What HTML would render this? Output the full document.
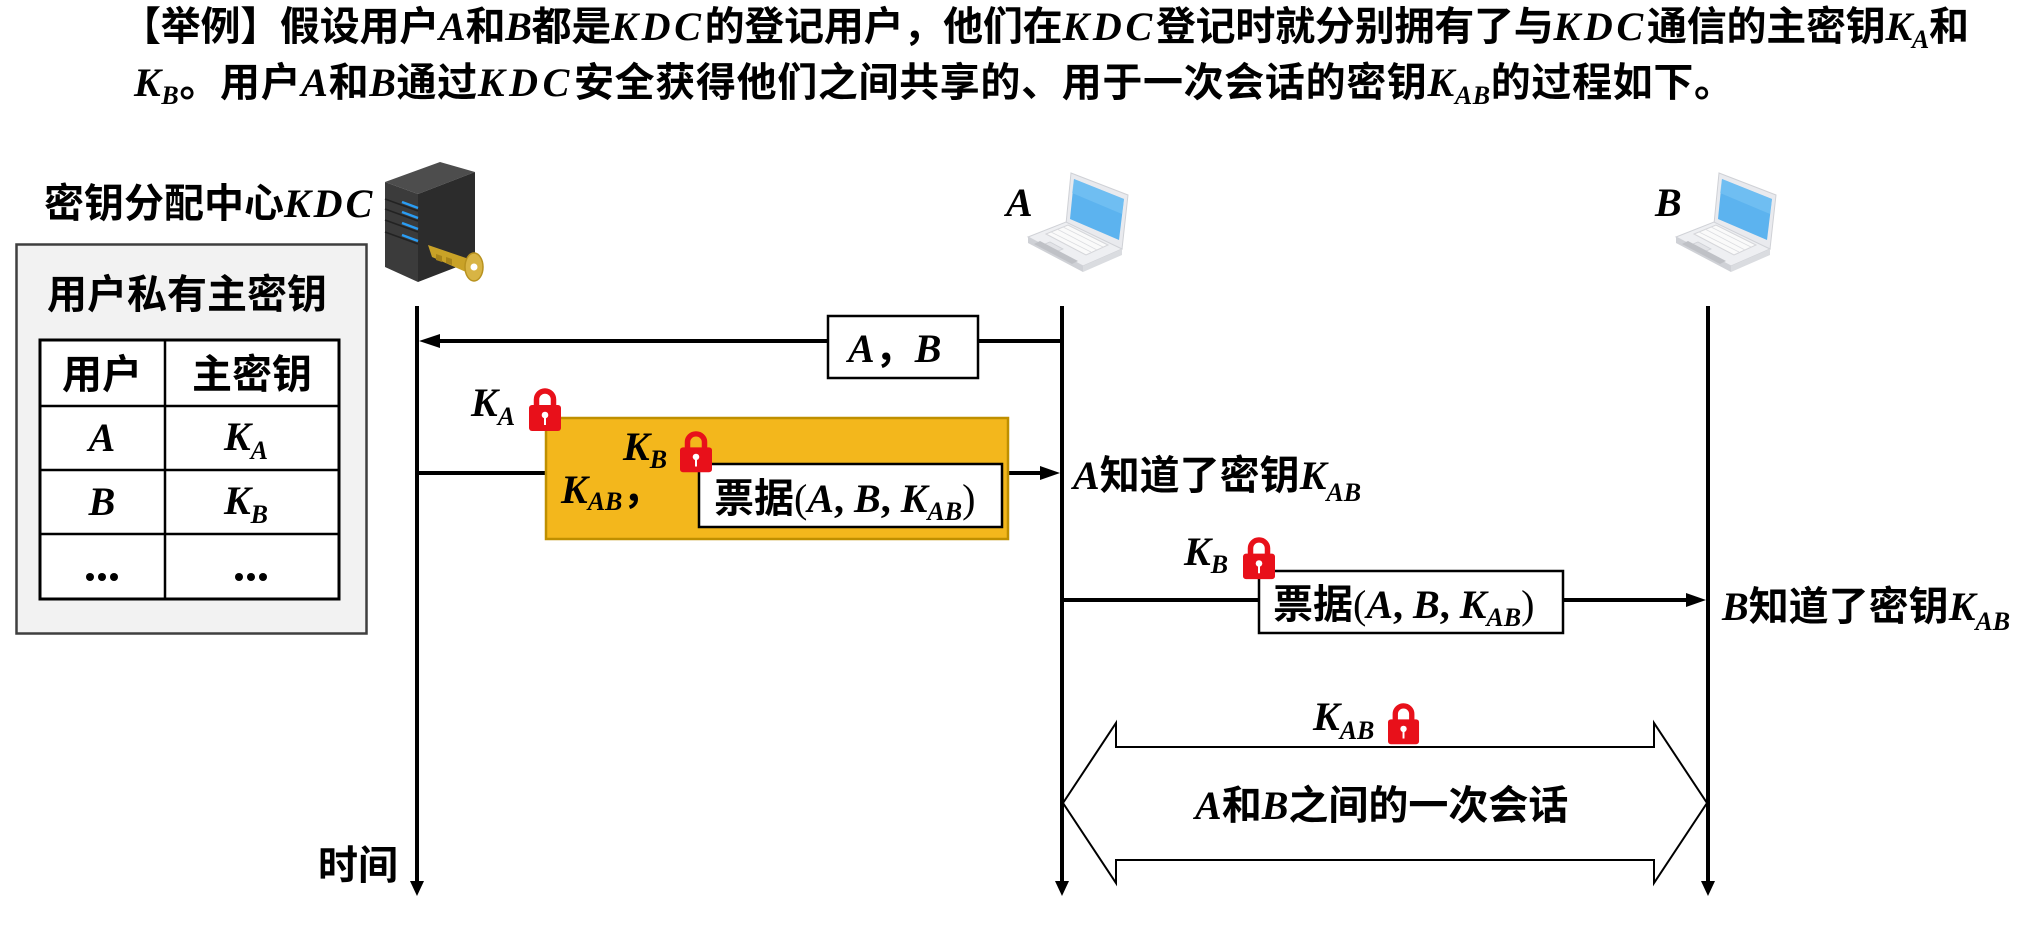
<!DOCTYPE html>
<html>
<head>
<meta charset="utf-8">
<style>
html,body{margin:0;padding:0;background:#fff;}
svg{display:block;}
text{font-family:"Liberation Serif","Noto Sans CJK SC",sans-serif;font-weight:bold;font-size:40px;fill:#000;}
.m{font-style:italic;font-family:"Liberation Serif",serif;}
.s{font-style:italic;font-family:"Liberation Serif",serif;font-size:26px;}
</style>
</head>
<body>
<svg width="2040" height="930" viewBox="0 0 2040 930" xmlns="http://www.w3.org/2000/svg">
<rect x="0" y="0" width="2040" height="930" fill="#fff"/>

<!-- Title -->
<text x="121" y="40" textLength="1848" lengthAdjust="spacing">【举例】假设用户<tspan class="m">A</tspan>和<tspan class="m">B</tspan>都是<tspan class="m" letter-spacing="4">KDC</tspan>的登记用户，他们在<tspan class="m" letter-spacing="4">KDC</tspan>登记时就分别拥有了与<tspan class="m" letter-spacing="4">KDC</tspan>通信的主密钥<tspan class="m">K</tspan><tspan class="s" dy="8">A</tspan><tspan dy="-8">和</tspan></text>
<text x="134" y="96" textLength="1600" lengthAdjust="spacing"><tspan class="m">K</tspan><tspan class="s" dy="8">B</tspan><tspan dy="-8">。用户</tspan><tspan class="m">A</tspan>和<tspan class="m">B</tspan>通过<tspan class="m" letter-spacing="4">KDC</tspan>安全获得他们之间共享的、用于一次会话的密钥<tspan class="m">K</tspan><tspan class="s" dy="8">AB</tspan><tspan dy="-8">的过程如下。</tspan></text>

<!-- KDC label -->
<text x="44" y="217">密钥分配中心<tspan class="m" letter-spacing="3">KDC</tspan></text>

<!-- Server icon -->
<g>
  <polygon points="385,182 440,162 475,172 418,194" fill="#4d4d4d"/>
  <polygon points="385,182 418,194 418,282 385,267" fill="#3b3b3b"/>
  <polygon points="418,194 475,172 475,260 418,282" fill="#2c2c2c"/>
  <g stroke="#222" stroke-width="1.5">
    <line x1="385" y1="199" x2="418" y2="211"/>
    <line x1="385" y1="209" x2="418" y2="221"/>
    <line x1="385" y1="220" x2="418" y2="232"/>
    <line x1="385" y1="232" x2="418" y2="244"/>
  </g>
  <g stroke="#2a9df4" stroke-width="2.5">
    <line x1="402" y1="202" x2="418" y2="208"/>
    <line x1="402" y1="212" x2="418" y2="218"/>
    <line x1="402" y1="223" x2="418" y2="229"/>
    <line x1="402" y1="235" x2="418" y2="241"/>
  </g>
  <!-- key -->
  <polygon points="428,245 466,258 466,272 432,257" fill="#c9a227"/>
  <polygon points="436,254 442,256 442,262 436,260" fill="#a8841a"/>
  <polygon points="446,257 452,259 452,265 446,263" fill="#a8841a"/>
  <ellipse cx="474" cy="267" rx="9" ry="14" fill="#d8b444" stroke="#b8921f" stroke-width="1.5"/>
  <circle cx="474" cy="267" r="3.5" fill="#fff"/>
</g>

<!-- Table panel -->
<rect x="16.5" y="244.5" width="350" height="389" fill="#f2f2f2" stroke="#3f3f3f" stroke-width="2.5"/>
<text x="187" y="308" text-anchor="middle">用户私有主密钥</text>
<rect x="40" y="340" width="299" height="259" fill="#fff" stroke="#000" stroke-width="3"/>
<g stroke="#000" stroke-width="2.5">
  <line x1="165" y1="340" x2="165" y2="599"/>
  <line x1="40" y1="406" x2="339" y2="406"/>
  <line x1="40" y1="470" x2="339" y2="470"/>
  <line x1="40" y1="534" x2="339" y2="534"/>
</g>
<text x="102" y="388" text-anchor="middle">用户</text>
<text x="252" y="388" text-anchor="middle">主密钥</text>
<text x="102" y="451" text-anchor="middle" class="m">A</text>
<text x="246" y="450" text-anchor="middle"><tspan class="m">K</tspan><tspan class="s" dy="9">A</tspan></text>
<text x="102" y="515" text-anchor="middle" class="m">B</text>
<text x="246" y="514" text-anchor="middle"><tspan class="m">K</tspan><tspan class="s" dy="9">B</tspan></text>
<g fill="#000">
  <circle cx="90" cy="577" r="4"/><circle cx="102" cy="577" r="4"/><circle cx="114" cy="577" r="4"/>
  <circle cx="239" cy="577" r="4"/><circle cx="251" cy="577" r="4"/><circle cx="263" cy="577" r="4"/>
</g>

<!-- Laptops -->
<g id="lap">
  <polygon points="1071,173 1128,195 1122,249 1066,224" fill="#e9eaee" stroke="#cfd1d6" stroke-width="1"/>
  <polygon points="1074,179 1124,199 1119,240 1070,219" fill="#5cb3ef"/>
  <polygon points="1074,179 1124,199 1122,214 1072,193" fill="#7cc4f4" opacity="0.6"/>
  <polygon points="1028,237 1066,222 1122,249 1083,266" fill="#eeeff2" stroke="#d0d2d7" stroke-width="1"/>
  <polygon points="1028,237 1083,266 1083,272 1028,243" fill="#cfd1d6"/>
  <polygon points="1083,266 1122,249 1122,255 1083,272" fill="#dadce0"/>
  <polygon points="1046,234 1068,225 1108,245 1086,255" fill="#fafafa" stroke="#d5d6da" stroke-width="1"/>
  <g stroke="#dcdde1" stroke-width="0.8">
    <line x1="1051" y1="232" x2="1091" y2="252"/>
    <line x1="1057" y1="229" x2="1097" y2="250"/>
    <line x1="1063" y1="227" x2="1103" y2="247"/>
  </g>
  <polygon points="1040,246 1050,242 1063,249 1053,253" fill="#e2e3e7" stroke="#cfd1d6" stroke-width="0.8"/>
  <polygon points="1034,244 1040,241 1078,261 1072,264" fill="#bfc1c6"/>
</g>
<use href="#lap" transform="translate(648,0)"/>
<text x="1006" y="216" class="m">A</text>
<text x="1655" y="216" class="m">B</text>

<!-- Lifelines -->
<g stroke="#000" stroke-width="4">
  <line x1="417" y1="306" x2="417" y2="884"/>
  <line x1="1062" y1="306" x2="1062" y2="884"/>
  <line x1="1708" y1="306" x2="1708" y2="884"/>
</g>
<g fill="#000">
  <polygon points="410,881 424,881 417,896"/>
  <polygon points="1055,881 1069,881 1062,896"/>
  <polygon points="1701,881 1715,881 1708,896"/>
</g>
<text x="318" y="879">时间</text>

<!-- Arrow 1: A -> KDC -->
<line x1="1062" y1="341" x2="435" y2="341" stroke="#000" stroke-width="4"/>
<polygon points="419,341 440,334 440,348" fill="#000"/>
<rect x="828" y="316" width="150" height="62" fill="#fff" stroke="#000" stroke-width="2.5"/>
<text x="848" y="362"><tspan class="m">A</tspan>，<tspan class="m">B</tspan></text>

<!-- Arrow 2: KDC -> A -->
<line x1="417" y1="473" x2="1044" y2="473" stroke="#000" stroke-width="4"/>
<polygon points="1060,473 1040,466 1040,480" fill="#000"/>
<rect x="546" y="418" width="462" height="121" fill="#f3b71c" stroke="#bf8f00" stroke-width="2.5"/>
<rect x="699" y="464" width="303" height="63" fill="#fff" stroke="#000" stroke-width="2.5"/>
<text x="714" y="512">票据<tspan font-family="Liberation Serif" font-weight="normal">(</tspan><tspan class="m">A</tspan><tspan font-family="Liberation Serif">, </tspan><tspan class="m">B</tspan><tspan font-family="Liberation Serif">, </tspan><tspan class="m">K</tspan><tspan class="s" dy="8">AB</tspan><tspan dy="-8" font-family="Liberation Serif" font-weight="normal">)</tspan></text>
<text x="561" y="503"><tspan class="m">K</tspan><tspan class="s" dy="7">AB</tspan><tspan dy="-7">，</tspan></text>
<text x="471" y="416"><tspan class="m">K</tspan><tspan class="s" dy="9">A</tspan></text>
<text x="623" y="460"><tspan class="m">K</tspan><tspan class="s" dy="8">B</tspan></text>
<text x="1073" y="489"><tspan class="m">A</tspan>知道了密钥<tspan class="m">K</tspan><tspan class="s" dy="12">AB</tspan></text>

<!-- Arrow 3: A -> B -->
<line x1="1062" y1="600" x2="1690" y2="600" stroke="#000" stroke-width="4"/>
<polygon points="1706,600 1686,593 1686,607" fill="#000"/>
<rect x="1259" y="571" width="304" height="62" fill="#fff" stroke="#000" stroke-width="2.5"/>
<text x="1273" y="618">票据<tspan font-family="Liberation Serif" font-weight="normal">(</tspan><tspan class="m">A</tspan><tspan font-family="Liberation Serif">, </tspan><tspan class="m">B</tspan><tspan font-family="Liberation Serif">, </tspan><tspan class="m">K</tspan><tspan class="s" dy="8">AB</tspan><tspan dy="-8" font-family="Liberation Serif" font-weight="normal">)</tspan></text>
<text x="1184" y="565"><tspan class="m">K</tspan><tspan class="s" dy="8">B</tspan></text>
<text x="1722" y="620"><tspan class="m">B</tspan>知道了密钥<tspan class="m">K</tspan><tspan class="s" dy="10">AB</tspan></text>

<!-- Session double arrow -->
<polygon points="1063,803 1116,723 1116,747 1654,747 1654,723 1707,803 1654,883 1654,860 1116,860 1116,883" fill="#fff" stroke="#000" stroke-width="2"/>
<text x="1313" y="730"><tspan class="m">K</tspan><tspan class="s" dy="9">AB</tspan></text>
<text x="1195" y="819"><tspan class="m">A</tspan>和<tspan class="m">B</tspan>之间的一次会话</text>

<!-- Locks -->
<defs>
  <g id="lock">
    <path d="M7.5 19 V11.5 A8.5 8.5 0 0 1 24.5 11.5 V19" fill="none" stroke="#e8101a" stroke-width="5.5"/>
    <rect x="0" y="17" width="32" height="26" rx="3" fill="#e8101a"/>
    <circle cx="16" cy="27" r="3.3" fill="#fff"/>
    <rect x="15" y="27" width="2" height="10" fill="#fff"/>
  </g>
</defs>
<use href="#lock" transform="translate(529,388)"/>
<use href="#lock" transform="translate(680,431) scale(1,0.96)"/>
<use href="#lock" transform="translate(1243,537) scale(1,0.98)"/>
<use href="#lock" transform="translate(1388,703) scale(0.97,0.96)"/>

</svg>
</body>
</html>
